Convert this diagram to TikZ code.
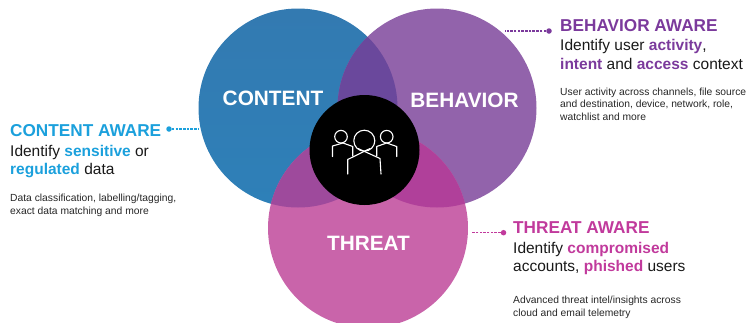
\documentclass[tikz,border=0pt]{standalone}
\usepackage{fontspec}
\setmainfont{Liberation Sans}
\definecolor{cblue}{HTML}{337AB1}
\definecolor{cblueb}{HTML}{2E80B8}
\definecolor{cpurp}{HTML}{9263AB}
\definecolor{cpink}{HTML}{C964AA}
\definecolor{tblue}{HTML}{1BA0DC}
\definecolor{tpurp}{HTML}{7B3A9C}
\definecolor{tpink}{HTML}{C13A9C}
\definecolor{ovA}{HTML}{6A489C}
\definecolor{ovB}{HTML}{9E4A9C}
\definecolor{ovC}{HTML}{B0409A}
\tikzset{
  x=1pt,y=-1pt,
  venn/.style={circle,minimum size=#1,inner sep=0pt,outer sep=0pt},
  vlabel/.style={font=\bfseries\fontsize{20.8}{22}\selectfont,text=white,inner sep=0pt},
  head/.style={anchor=base west,inner sep=0pt,font=\bfseries\fontsize{17.2}{20}\selectfont},
  mid/.style={anchor=base west,inner sep=0pt,font=\fontsize{15.5}{18}\selectfont,text=black!90},
  small/.style={anchor=base west,inner sep=0pt,font=\fontsize{10.3}{12}\selectfont,text=black!85},
  dotn/.style={circle,minimum size=5.5pt,inner sep=0pt,fill=#1},
  link/.style={dash pattern=on 2.5pt off 1.2pt,line width=1.2pt,draw=#1},
  icon/.style={draw=white,line width=1.1pt,line join=round,line cap=round}
}
\begin{document}
\begin{tikzpicture}
\clip (0,0) rectangle (750,322);
% circles
\node[venn=199pt,top color=cblue,bottom color=cblueb] (content) at (298,108) {};
\node[venn=199pt,fill=cpurp] (behavior) at (437,108) {};
\node[venn=200pt,fill=cpink] (threat) at (368,228) {};
% overlaps
\begin{scope}
  \clip (298,108) circle[radius=99.5];
  \fill[ovA] (437,108) circle[radius=99.5];
  \fill[ovB] (368,228) circle[radius=100];
\end{scope}
\begin{scope}
  \clip (437,108) circle[radius=99.5];
  \fill[ovC] (368,228) circle[radius=100];
\end{scope}
% centre
\node[venn=110pt,fill=black] (hub) at (364.5,150) {};
% icon
\draw[icon] (364.3,140.7) circle[radius=10.5];
\draw[icon] (341,136.7) circle[radius=6.3];
\draw[icon] (386.7,136.7) circle[radius=6.3];
\draw[icon] (332.5,156.5) -- (332.5,146) -- (343,143) -- (352.7,146.5) -- (352.7,156);
\draw[icon] (376.7,156) -- (376.7,146.5) -- (386.7,143) -- (396.7,146.5) -- (396.7,156.5);
\draw[icon] (347.7,174) -- (347.7,159.5) -- (370,148.5);
\draw[icon] (358,148.5) -- (380,158.5) -- (381,174);
% circle labels
\node[vlabel] (lc) at (273,98) {CONTENT};
\node[vlabel] (lb) at (464.5,100) {BEHAVIOR};
\node[vlabel] (lt) at (368.5,243.5) {THREAT};
% connectors
\node[dotn=tblue] (dc) at (169,129) {};
\node[dotn=tpurp] (db) at (549,31) {};
\node[dotn=tpink] (dt) at (503.5,232.7) {};
\coordinate (ec) at (199,129);
\draw[link=tblue] (dc) -- (ec);
\coordinate (eb) at (505,31);
\draw[link=tpurp] (db) -- (eb);
\coordinate (et) at (471,232.7);
\draw[link=tpink] (dt) -- (et);
% Content text
\node[head,text=tblue] (c1) at (10,136) {CONTENT AWARE};
\node[mid] (c2) at (10,156) {Identify \textcolor{tblue}{\textbf{sensitive}} or};
\node[mid] (c3) at (10,174) {\textcolor{tblue}{\textbf{regulated}} data};
\node[small] (c4) at (10,201) {Data classification, labelling/tagging,};
\node[small] (c5) at (10,214) {exact data matching and more};
% Behavior text
\node[head,text=tpurp] (b1) at (560,31) {BEHAVIOR AWARE};
\node[mid] (b2) at (560,50) {Identify user \textcolor{tpurp}{\textbf{activity}},};
\node[mid] (b3) at (560,69) {\textcolor{tpurp}{\textbf{intent}} and \textcolor{tpurp}{\textbf{access}} context};
\node[small] (b4) at (560,95) {User activity across channels, file source};
\node[small] (b5) at (560,107) {and destination, device, network, role,};
\node[small] (b6) at (560,120) {watchlist and more};
% Threat text
\node[head,text=tpink] (t1) at (513,233) {THREAT AWARE};
\node[mid] (t2) at (513,253) {Identify \textcolor{tpink}{\textbf{compromised}}};
\node[mid] (t3) at (513,271) {accounts, \textcolor{tpink}{\textbf{phished}} users};
\node[small] (t4) at (513,303) {Advanced threat intel/insights across};
\node[small] (t5) at (513,316) {cloud and email telemetry};
\end{tikzpicture}
\end{document}
